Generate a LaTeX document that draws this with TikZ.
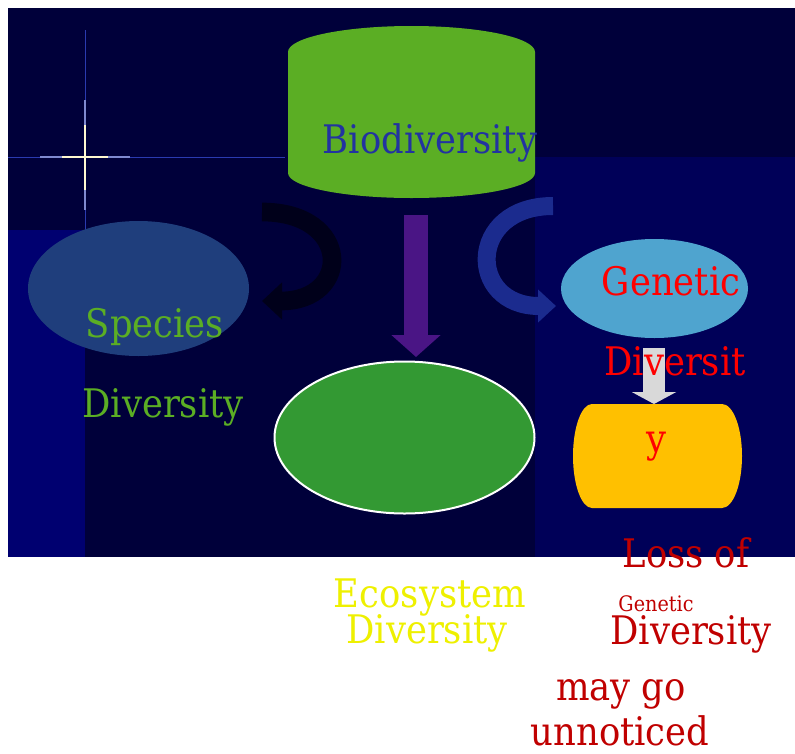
\documentclass[tikz,border=0pt]{standalone}
\usepackage{fontspec}
\setmainfont{DejaVu Serif}
\usetikzlibrary{shapes.geometric,arrows.meta}

\definecolor{nightbg}{HTML}{00003A}
\definecolor{nightmid}{HTML}{000058}
\definecolor{nightside}{HTML}{000070}
\definecolor{starblue}{HTML}{2A3AB0}
\definecolor{starglow}{HTML}{FFF8D0}
\definecolor{leafgreen}{HTML}{5BAE24}
\definecolor{biotext}{HTML}{2233A0}
\definecolor{speciesblue}{HTML}{1F3E7C}
\definecolor{geneblue}{HTML}{4FA4CF}
\definecolor{ecogreen}{HTML}{339933}
\definecolor{barrelgold}{HTML}{FFC000}
\definecolor{purplearrow}{HTML}{4A1585}
\definecolor{curlblue}{HTML}{1B2B8E}
\definecolor{curlshadow}{HTML}{00001A}
\definecolor{palegray}{HTML}{D9D9D9}
\definecolor{ecoyellow}{HTML}{EEF000}
\definecolor{lossred}{HTML}{C00000}

\begin{document}
\begin{tikzpicture}[x=0.75pt,y=-0.75pt]
\tikzset{blob/.style={ellipse,inner sep=0pt}}
\tikzset{txt/.style={inner sep=0pt,anchor=base,xscale=0.9,font=\fontsize{29.5}{35}\selectfont}}
\tikzset{fat/.style={line width=#1}}

\useasboundingbox (0,0) rectangle (795,753);
\fill[white] (0,0) rectangle (795,753);
\fill[nightbg] (8,8) rectangle (795,557);
\fill[nightmid] (535,157) rectangle (795,557);
\fill[nightside] (8,230) rectangle (85,557);

\draw[starblue,line width=0.6pt] (8,157) -- (285,157);
\draw[starblue,line width=0.6pt] (85,30) -- (85,232);
\draw[starblue!60!white,line width=0.8pt] (40,157) -- (130,157);
\draw[starblue!60!white,line width=0.8pt] (85,100) -- (85,210);
\draw[starglow,line width=0.9pt] (62,157) -- (108,157);
\draw[starglow,line width=0.9pt] (85,125) -- (85,190);

\fill[leafgreen] (288,52) arc[start angle=180,end angle=360,x radius=123.5,y radius=26]
  -- (535,173) arc[start angle=0,end angle=180,x radius=123.5,y radius=25] -- cycle;

\node[blob,fill=speciesblue,minimum width=165.75pt,minimum height=101.25pt] (species) at (138.5,288.5) {};
\node[blob,fill=geneblue,minimum width=140.25pt,minimum height=74.25pt] (genetic) at (654.5,288.5) {};
\node[blob,fill=ecogreen,draw=white,line width=1.5pt,minimum width=195pt,minimum height=114pt] (eco) at (404.5,437.5) {};

\fill[barrelgold] (592,404) -- (722,404) arc[start angle=-90,end angle=90,x radius=20,y radius=52]
  -- (592,508) arc[start angle=90,end angle=270,x radius=19,y radius=52] -- cycle;

\coordinate (ltail) at (262,212);
\coordinate (lhead) at (262,301);
\coordinate (rtail) at (553,206);
\coordinate (rhead) at (556,306);
\coordinate (ptop) at (416,215);
\coordinate (ptip) at (416,357);
\coordinate (gtop) at (654,348);
\coordinate (gtip) at (654,404);

\draw[curlshadow,fat=14pt,-{Triangle[width=27pt,length=15pt]}] (ltail) .. controls (352,212) and (352,301) .. (lhead);
\draw[curlblue,fat=13.5pt,-{Triangle[width=24pt,length=13.5pt]}] (rtail) .. controls (467,206) and (467,306) .. (rhead);
\draw[purplearrow,fat=18pt,-{Triangle[width=36pt,length=16.5pt]}] (ptop) -- (ptip);
\draw[palegray,fat=16.5pt,-{Triangle[width=33pt,length=9pt]}] (gtop) -- (gtip);

\node[txt,text=biotext] (biolabel) at (430,153) {Biodiversity};
\node[txt,text=leafgreen] (sp1) at (155,337) {Species};
\node[txt,text=leafgreen] (sp2) at (163,417) {Diversity};
\node[txt,text=red] (gen1) at (671,295) {Genetic};
\node[txt,text=red] (gen2) at (675,375) {Diversit};
\node[txt,text=red] (gen3) at (656,452) {y};
\node[txt,text=ecoyellow] (eco1) at (430,607) {Ecosystem};
\node[txt,text=ecoyellow] (eco2) at (427,643) {Diversity};
\node[txt,text=lossred] (loss1) at (686,567) {Loss of};
\node[txt,text=lossred,font=\fontsize{16}{19}\selectfont] (loss2) at (656,611) {Genetic};
\node[txt,text=lossred] (loss3) at (691,644) {Diversity};
\node[txt,text=lossred] (loss4) at (621,700) {may go};
\node[txt,text=lossred] (loss5) at (620,745) {unnoticed};

\end{tikzpicture}
\end{document}
